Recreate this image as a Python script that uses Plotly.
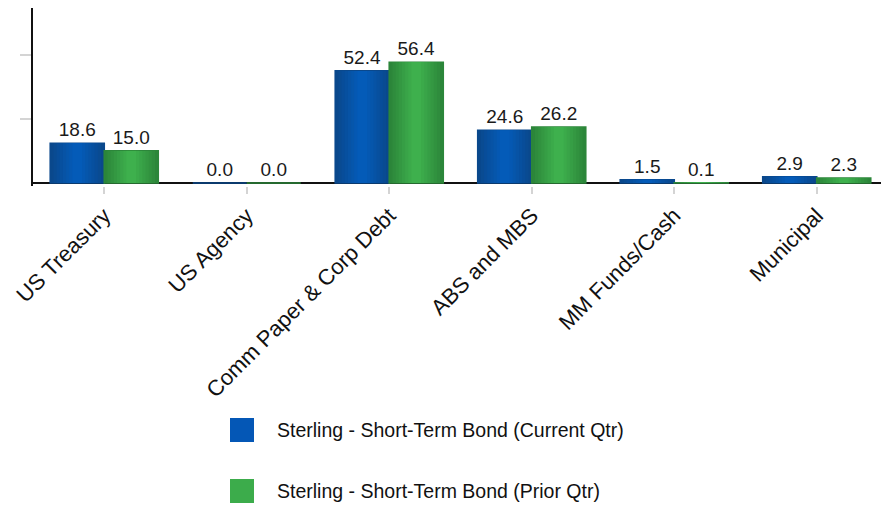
import plotly.graph_objects as go

# Sector allocation (%) for the fund, current vs prior quarter
categories = ["US Treasury", "US Agency", "Comm Paper & Corp Debt",
              "ABS and MBS", "MM Funds/Cash", "Municipal"]
current_qtr = [18.6, 0.0, 52.4, 24.6, 1.5, 2.9]
prior_qtr = [15.0, 0.0, 56.4, 26.2, 0.1, 2.3]
series_names = ["Sterling - Short-Term Bond (Current Qtr)",
                "Sterling - Short-Term Bond (Prior Qtr)"]
y_ticks = [30, 60]

# Layout geometry (pixels)
FIG_W, FIG_H = 881, 508
M_L, M_R, M_T, M_B = 33, 0, 8, 322
PLOT_W = FIG_W - M_L - M_R
PLOT_H = FIG_H - M_T - M_B
Y_RANGE = [-1.4, 81.8]
X_RANGE = [-0.5, 5.451]

BAR_W = 0.379      # width of one bar, in category units
N_LAYERS = 8       # layers used to fake a horizontal cylinder shading

styles = [
    dict(side=-1, edge=(10, 72, 140), center=(4, 91, 184), legend="#0457b6"),
    dict(side=1, edge=(44, 134, 58), center=(62, 176, 77), legend="#3cac4b"),
]

BASE_FONT = "Liberation Sans, Arial, Helvetica, sans-serif"


def lerp(c0, c1, t):
    return "rgb({},{},{})".format(*[round(a + (b - a) * t) for a, b in zip(c0, c1)])


def px_x(p):
    return (p - M_L) / PLOT_W


def px_y(p):
    return (FIG_H - M_B - p) / PLOT_H


fig = go.Figure()

for values, name, st in zip([current_qtr, prior_qtr], series_names, styles):
    for k in range(N_LAYERS):
        t = k / (N_LAYERS - 1)
        w = BAR_W * (1 - 0.82 * t)
        offset = st["side"] * BAR_W / 2 - w / 2
        color = lerp(st["edge"], st["center"], t)
        first = k == 0
        fig.add_trace(go.Bar(
            x=categories,
            y=values,
            name=name,
            width=w,
            offset=offset,
            marker=dict(color=color,
                        line=dict(color=color, width=1.6 if first else 0)),
            text=[f"{v:.1f}" for v in values] if first else None,
            textposition="outside" if first else "none",
            textfont=dict(family=BASE_FONT, size=19, color="#1a1a1a"),
            constraintext="none",
            cliponaxis=False,
            showlegend=False,
            hoverinfo="skip" if not first else None,
        ))

# Legend drawn as swatches + labels below the axis labels
shapes = []
annotations = []
legend_rows = [(418, 442), (479, 503)]
for (y0, y1), name, st in zip(legend_rows, series_names, styles):
    shapes.append(dict(type="rect", xref="paper", yref="paper",
                       x0=px_x(230), x1=px_x(254), y0=px_y(y1), y1=px_y(y0),
                       fillcolor=st["legend"], line=dict(width=0)))
    annotations.append(dict(xref="paper", yref="paper", x=px_x(275),
                            y=px_y((y0 + y1) / 2), xanchor="left",
                            yanchor="middle", text=name, showarrow=False,
                            font=dict(family=BASE_FONT, size=19.5,
                                      color="#111111")))

fig.update_layout(
    width=FIG_W, height=FIG_H,
    margin=dict(l=M_L, r=M_R, t=M_T, b=M_B, pad=0),
    paper_bgcolor="white", plot_bgcolor="white",
    barmode="overlay",
    showlegend=False,
    font=dict(family=BASE_FONT, color="#111111"),
    shapes=shapes,
    annotations=annotations,
    xaxis=dict(
        range=X_RANGE,
        showline=False, showgrid=False, zeroline=False,
        ticks="outside", ticklen=7, tickwidth=2, tickcolor="#d4d4d4",
        tickangle=-45,
        tickfont=dict(family=BASE_FONT, size=22, color="#111111"),
    ),
    yaxis=dict(
        range=Y_RANGE,
        showline=True, linecolor="#111111", linewidth=2,
        showgrid=False,
        zeroline=True, zerolinecolor="#111111", zerolinewidth=2,
        tickvals=y_ticks, ticks="outside", ticklen=11, tickwidth=2,
        tickcolor="#d4d4d4", showticklabels=False,
    ),
)

fig.write_html("out.html")
